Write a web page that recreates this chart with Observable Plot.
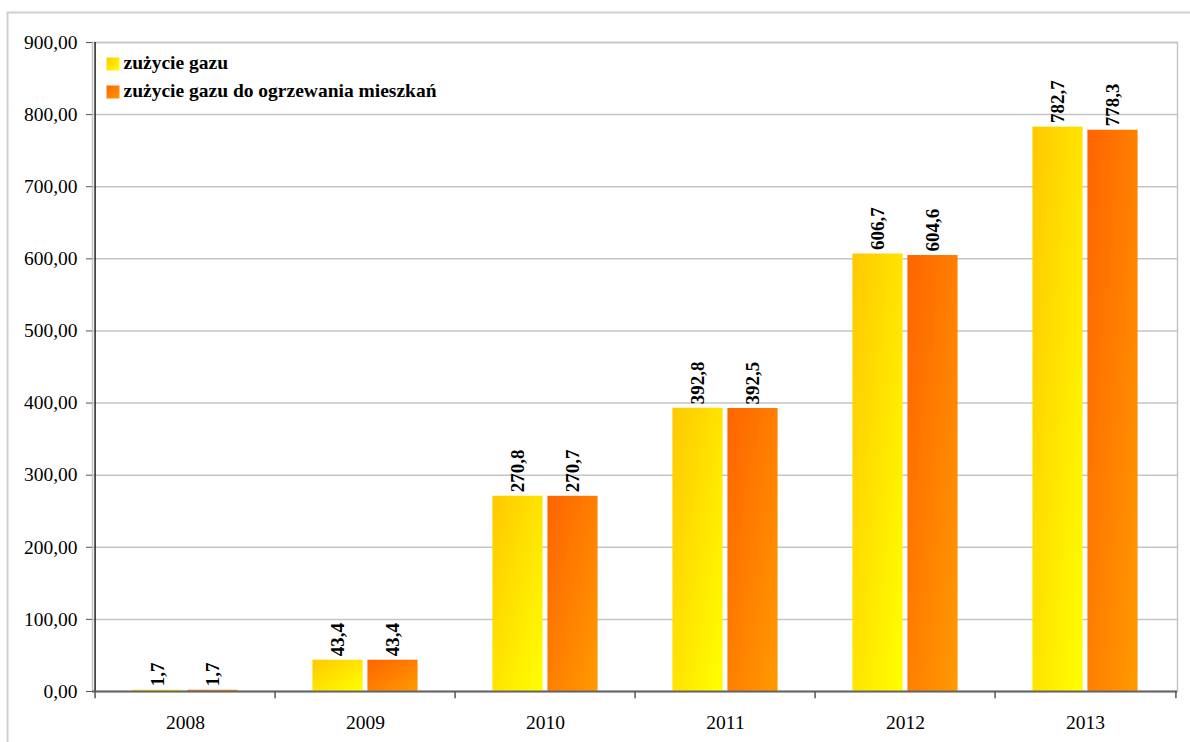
<!DOCTYPE html>
<html>
<head>
<meta charset="utf-8">
<script src="https://cdn.jsdelivr.net/npm/d3@7"></script>
<script src="https://cdn.jsdelivr.net/npm/@observablehq/plot@0.6"></script>
<style>
  html, body { margin: 0; padding: 0; background: #fff; }
  #chart svg { display: block; }
  #chart svg, #chart svg text { font-family: "Liberation Serif", "Times New Roman", serif !important; }
</style>
</head>
<body>
<div id="chart"></div>
<script>
const years = ["2008", "2009", "2010", "2011", "2012", "2013"];
const seriesNames = ["zużycie gazu", "zużycie gazu do ogrzewania mieszkań"];
const gasUse = [1.7, 43.4, 270.8, 392.8, 606.7, 782.7];
const heatingUse = [1.7, 43.4, 270.7, 392.5, 604.6, 778.3];
const yTicks = [0, 100, 200, 300, 400, 500, 600, 700, 800, 900];

const dataA = years.map((y, i) => ({year: y, value: gasUse[i]}));
const dataB = years.map((y, i) => ({year: y, value: heatingUse[i]}));

const W = 1190, H = 742;
const mL = 92, mR = 13, mT = 42, mB = 51;
const step = (W - mL - mR) / years.length;
const half = step / 2;
const barW = 51, gap = 4;
const outer = (step - 2 * barW - gap) / 2;
const fmt1 = d => d.toFixed(1).replace(".", ",");
const fmt2 = d => d.toFixed(2).replace(".", ",");
const font = "Liberation Serif";

const svg = Plot.plot({
  width: W,
  height: H,
  marginLeft: mL,
  marginRight: mR,
  marginTop: mT,
  marginBottom: mB,
  style: {fontFamily: font, fontSize: "19.5px", color: "#000", background: "#fff"},
  x: {type: "band", domain: years, padding: 0, label: null},
  y: {domain: [0, 900], label: null},
  marks: [
    // outer chart border
    Plot.frame({stroke: "#d0d0d0", strokeWidth: 2, insetLeft: -85, insetTop: -30, insetRight: -40, insetBottom: -80}),
    Plot.gridY(yTicks, {stroke: "#c4c4c4", strokeOpacity: 1, strokeWidth: 1.5}),
    Plot.frame({stroke: "#c4c4c4", strokeWidth: 1.5}),
    Plot.axisY(yTicks, {tickSize: 6, tickPadding: 9, tickFormat: fmt2, fontSize: "19.5px", stroke: "#555", label: null}),
    Plot.axisX({tickSize: 0, tickPadding: 24, fontSize: "19.5px", label: null}),
    Plot.barY(dataA, {x: "year", y: "value", fill: "url(#gradYellow)", insetLeft: outer, insetRight: outer + barW + gap}),
    Plot.barY(dataB, {x: "year", y: "value", fill: "url(#gradOrange)", insetLeft: outer + barW + gap, insetRight: outer}),
    // y axis line
    Plot.ruleX([years[0]], {x: d => d, dx: -half, y1: 0, y2: 900, stroke: "#222", strokeWidth: 1.5}),
    // x axis line
    Plot.ruleY([0], {stroke: "#666", strokeWidth: 2}),
    // category boundary ticks
    Plot.ruleX(years, {x: d => d, dx: -half, y1: 0, y2: -10, stroke: "#555", strokeWidth: 1.5}),
    Plot.ruleX([years[years.length - 1]], {x: d => d, dx: half, y1: 0, y2: -10, stroke: "#555", strokeWidth: 1.5}),
    // value labels
    Plot.text(dataA, {x: "year", y: "value", text: d => fmt1(d.value), rotate: -90, textAnchor: "start", lineAnchor: "middle", dx: -(half - outer - barW / 2), dy: -4, fontWeight: "bold", fontSize: "19px", fill: "#000"}),
    Plot.text(dataB, {x: "year", y: "value", text: d => fmt1(d.value), rotate: -90, textAnchor: "start", lineAnchor: "middle", dx: (half - outer - barW / 2), dy: -4, fontWeight: "bold", fontSize: "19px", fill: "#000"}),
    // legend
    Plot.dot([seriesNames[0]], {frameAnchor: "top-left", dx: 20.5, dy: 21.5, symbol: "square", r: Math.sqrt(169 / Math.PI), fill: "url(#gradYellow)", stroke: null}),
    Plot.dot([seriesNames[1]], {frameAnchor: "top-left", dx: 20.5, dy: 49.5, symbol: "square", r: Math.sqrt(169 / Math.PI), fill: "url(#gradOrange)", stroke: null}),
    Plot.text([seriesNames[0]], {frameAnchor: "top-left", text: d => d, dx: 31, dy: 20, textAnchor: "start", lineAnchor: "middle", fontWeight: "bold", fontSize: "19.5px", fill: "#000"}),
    Plot.text([seriesNames[1]], {frameAnchor: "top-left", text: d => d, dx: 31, dy: 48, textAnchor: "start", lineAnchor: "middle", fontWeight: "bold", fontSize: "19.5px", fill: "#000"})
  ]
});

// gradients
const defs = d3.create("svg:defs");
function grad(id, c0, c1) {
  const g = defs.append("linearGradient").attr("id", id)
    .attr("x1", 0).attr("y1", 0).attr("x2", 1).attr("y2", 1);
  g.append("stop").attr("offset", "0%").attr("stop-color", c0);
  g.append("stop").attr("offset", "100%").attr("stop-color", c1);
}
grad("gradYellow", "#ffc800", "#ffff00");
grad("gradOrange", "#ff6400", "#ff9a00");
svg.insertBefore(defs.node(), svg.firstChild);

document.getElementById("chart").appendChild(svg);
</script>
</body>
</html>
